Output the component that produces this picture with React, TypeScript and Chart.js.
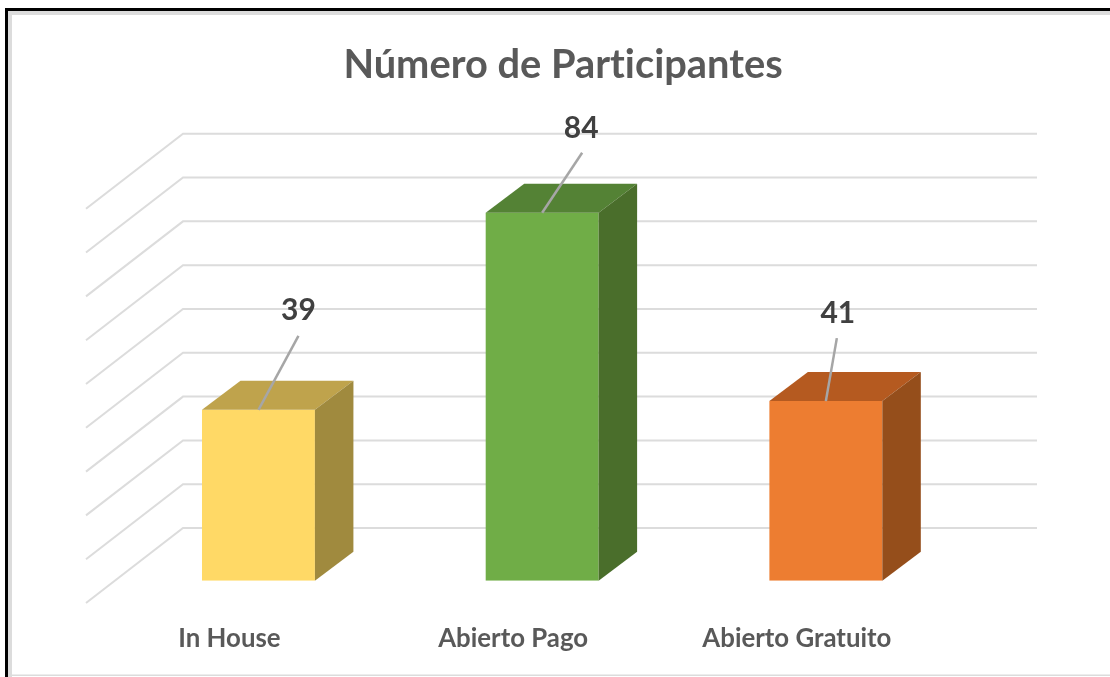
import React, { useEffect, useRef } from "react";
import { Chart, registerables } from "chart.js";

Chart.register(...registerables);

const categories = ["In House", "Abierto Pago", "Abierto Gratuito"];
const participants = [39, 84, 41];
const frontColors = ["#FFD966", "#70AD47", "#ED7D31"];
const topColors = ["#BFA34C", "#548235", "#B55A20"];
const sideColors = ["#A08A3E", "#4A6E2B", "#954E1B"];
const titleText = "Número de Participantes";

const BAR_DX = 38.5;
const BAR_DY = -29;
const WALL_BACK_DY = -52.7;
const WALL_FRONT_DY = 22.3;
const WALL_BACK_LEFT = 183;
const WALL_BACK_RIGHT = 1037;
const WALL_FRONT_LEFT = 86;
const leaderEnds = [[40, -74], [40, -60], [11, -63]];
const labelOffsets = [[40, -100], [39, -84], [12, -88]];

const frame3d = {
  id: "frame3d",
  beforeDraw(chart: any) {
    const { ctx, width, height } = chart;
    ctx.textRendering = "optimizeSpeed";
    ctx.save();
    ctx.fillStyle = "#ffffff";
    ctx.fillRect(0, 0, width, height);
    ctx.fillStyle = "#dcdcdc";
    ctx.fillRect(8, 11, 4, height - 11);
    ctx.fillRect(8, 11, width - 8, 4);
    ctx.fillRect(8, 674.5, width - 8, 1.5);
    ctx.fillStyle = "#000000";
    ctx.fillRect(5, 8, 3, height - 8);
    ctx.fillRect(5, 8, width - 5, 3);
    ctx.restore();
  },
  beforeDatasetsDraw(chart: any) {
    const { ctx } = chart;
    const y = chart.scales.y;
    ctx.save();
    ctx.strokeStyle = "#DCDCDC";
    ctx.lineWidth = 2;
    y.ticks.forEach((t: any) => {
      const py = y.getPixelForValue(t.value);
      ctx.beginPath();
      ctx.moveTo(WALL_FRONT_LEFT, py + WALL_FRONT_DY);
      ctx.lineTo(WALL_BACK_LEFT, py + WALL_BACK_DY);
      ctx.lineTo(WALL_BACK_RIGHT, py + WALL_BACK_DY);
      ctx.stroke();
    });
    ctx.restore();
  },
  afterDatasetsDraw(chart: any) {
    const { ctx } = chart;
    const meta = chart.getDatasetMeta(0);
    ctx.save();
    meta.data.forEach((bar: any, i: number) => {
      const half = bar.width / 2;
      const l = bar.x - half;
      const r = bar.x + half;
      const t = bar.y;
      const b = bar.base;
      ctx.fillStyle = topColors[i];
      ctx.beginPath();
      ctx.moveTo(l, t);
      ctx.lineTo(l + BAR_DX, t + BAR_DY);
      ctx.lineTo(r + BAR_DX, t + BAR_DY);
      ctx.lineTo(r, t);
      ctx.closePath();
      ctx.fill();
      ctx.fillStyle = sideColors[i];
      ctx.beginPath();
      ctx.moveTo(r, t);
      ctx.lineTo(r + BAR_DX, t + BAR_DY);
      ctx.lineTo(r + BAR_DX, b + BAR_DY);
      ctx.lineTo(r, b);
      ctx.closePath();
      ctx.fill();

      ctx.strokeStyle = "#A6A6A6";
      ctx.lineWidth = 2.5;
      ctx.beginPath();
      ctx.moveTo(bar.x, t);
      ctx.lineTo(bar.x + leaderEnds[i][0], t + leaderEnds[i][1]);
      ctx.stroke();

      ctx.fillStyle = "#404040";
      ctx.font = "bold 30px Lato";
      ctx.textAlign = "center";
      ctx.textBaseline = "middle";
      ctx.fillText(String(participants[i]), bar.x + labelOffsets[i][0], t + labelOffsets[i][1]);
    });
    ctx.restore();
  },
};

export default function App() {
  const ref = useRef<HTMLCanvasElement | null>(null);
  useEffect(() => {
    if (!ref.current) return;
    const chart = new Chart(ref.current, {
      type: "bar",
      data: {
        labels: categories,
        datasets: [
          {
            label: "Participantes",
            data: participants,
            backgroundColor: frontColors,
            borderWidth: 0,
            barPercentage: 0.398,
            categoryPercentage: 1,
          },
        ],
      },
      options: {
        animation: false,
        responsive: false,
        layout: { padding: { left: 16, right: 0, top: 0, bottom: 0 } },
        plugins: {
          legend: { display: false },
          tooltip: { enabled: false },
          title: {
            display: true,
            text: titleText,
            color: "#595959",
            font: { family: "Lato", size: 39.8, weight: "bold", lineHeight: 1.2 },
            padding: { top: 41, bottom: 97.7 },
          },
        },
        scales: {
          x: {
            grid: { display: false },
            border: { display: false },
            ticks: {
              color: "#595959",
              font: { family: "Lato", size: 25.8, weight: "bold" },
              padding: 34.5,
              labelOffset: -29,
              maxRotation: 0,
              minRotation: 0,
              autoSkip: false,
            },
            afterFit: (s: any) => {
              s.height = 96.3;
            },
          },
          y: {
            min: 0,
            max: 90,
            position: "left",
            grid: { display: false },
            border: { display: false },
            ticks: { stepSize: 10, display: false },
            afterFit: (s: any) => {
              s.width = 100.6;
            },
          },
          yRightSpacer: {
            position: "right",
            grid: { display: false },
            border: { display: false },
            ticks: { display: false },
            afterFit: (s: any) => {
              s.width = 142.3;
            },
          },
        },
      },
      plugins: [frame3d],
    } as any);
    return () => chart.destroy();
  }, []);
  return (
    <div style={{ position: "fixed", left: 0, top: 0, width: 1110, height: 677, overflow: "hidden", background: "#fff" }}>
      <canvas ref={ref} width={1110} height={677} style={{ display: "block", width: 1110, height: 677, filter: "blur(0.7px)" }} />
    </div>
  );
}
